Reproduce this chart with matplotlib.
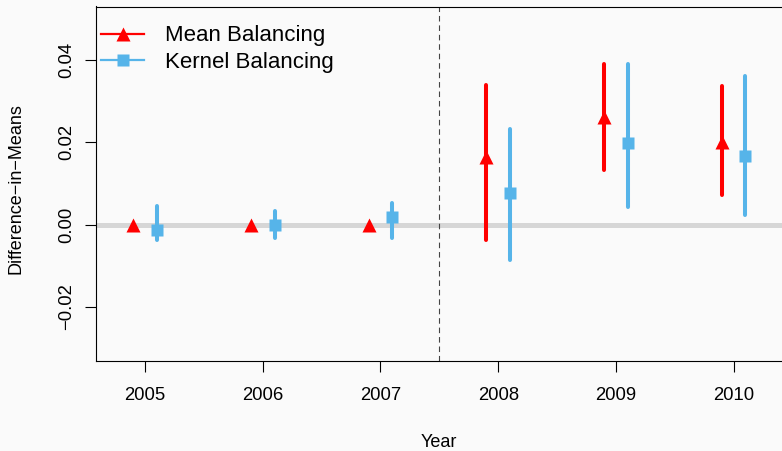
import numpy as np
import matplotlib.pyplot as plt

plt.rcParams['font.family'] = ['Liberation Sans', 'DejaVu Sans']

years = [2005, 2006, 2007, 2008, 2009, 2010]

# mean balancing estimates with confidence bounds (no spread before treatment)
mean_est = [0.0, 0.0, 0.0, 0.0165, 0.0261, 0.0202]
mean_lo = [0.0, 0.0, 0.0, -0.0037, 0.0134, 0.0073]
mean_hi = [0.0, 0.0, 0.0, 0.0341, 0.0391, 0.0337]

# kernel balancing estimates with confidence bounds
kern_est = [-0.0012, -0.0002, 0.0019, 0.0078, 0.0198, 0.0168]
kern_lo = [-0.0038, -0.0033, -0.0032, -0.0085, 0.0044, 0.0023]
kern_hi = [0.0045, 0.0032, 0.0052, 0.0234, 0.0390, 0.0363]

ytick_vals = [-0.02, 0.00, 0.02, 0.04]
ytick_text = ['\u22120.02', '0.00', '0.02', '0.04']

red = '#ff0000'
blue = '#56b4e9'
bg = '#fafafa'

fig = plt.figure(figsize=(7.82, 4.51), dpi=100, facecolor=bg)
ax = fig.add_axes([96 / 782, 90 / 451, 686 / 782, 354.5 / 451])
ax.set_facecolor(bg)

x = np.array(years, dtype=float)
xm = x - 0.1
xk = x + 0.1

ax.axhline(0, color='#d6d6d6', lw=3.6, zorder=1)
ax.axvline(2007.5, color='#444444', lw=0.8, dashes=(5, 3.5), zorder=1)

ax.vlines(xm, mean_lo, mean_hi, color=red, lw=2.9, capstyle='round', zorder=2)
ax.vlines(xk, kern_lo, kern_hi, color=blue, lw=2.9, capstyle='round', zorder=2)
ax.plot(xm, mean_est, ls='none', marker='^', ms=10.5, color=red, mec='none', zorder=3)
ax.plot(xk, kern_est, ls='none', marker='s', ms=8, color=blue, mec='none', zorder=3)

ax.set_xlim(2004.584, 2010.41)
ax.set_ylim(-0.0332, 0.0531)
ax.set_xticks(years)
ax.set_xticklabels([str(y) for y in years])
ax.set_yticks(ytick_vals)
ax.set_yticklabels(ytick_text, rotation=90, va='center')

ax.spines['right'].set_visible(False)
for s in ['left', 'bottom', 'top']:
    ax.spines[s].set_linewidth(0.8)
ax.tick_params(axis='x', length=8, width=0.8, pad=10.5, labelsize=13.3)
ax.tick_params(axis='y', length=8, width=0.8, pad=7, labelsize=13.3)

ax.set_xlabel('Year', fontsize=13)
ax.xaxis.set_label_coords(0.5, -0.205)
ax.set_ylabel('Difference\u2212in\u2212Means', fontsize=13)
ax.yaxis.set_label_coords(-0.1035, 0.4866)

handles = [
    plt.Line2D([], [], color=red, lw=1.6, marker='^', ms=10.5, mec='none'),
    plt.Line2D([], [], color=blue, lw=1.6, marker='s', ms=8, mec='none'),
]
ax.legend(handles, ['Mean Balancing', 'Kernel Balancing'], loc='upper left',
          bbox_to_anchor=(-0.0057, 0.972), frameon=False, fontsize=16,
          handlelength=1.95, handletextpad=0.95, labelspacing=0.25,
          borderaxespad=0, numpoints=1)

fig.savefig('out.png', dpi=100, facecolor=bg)
